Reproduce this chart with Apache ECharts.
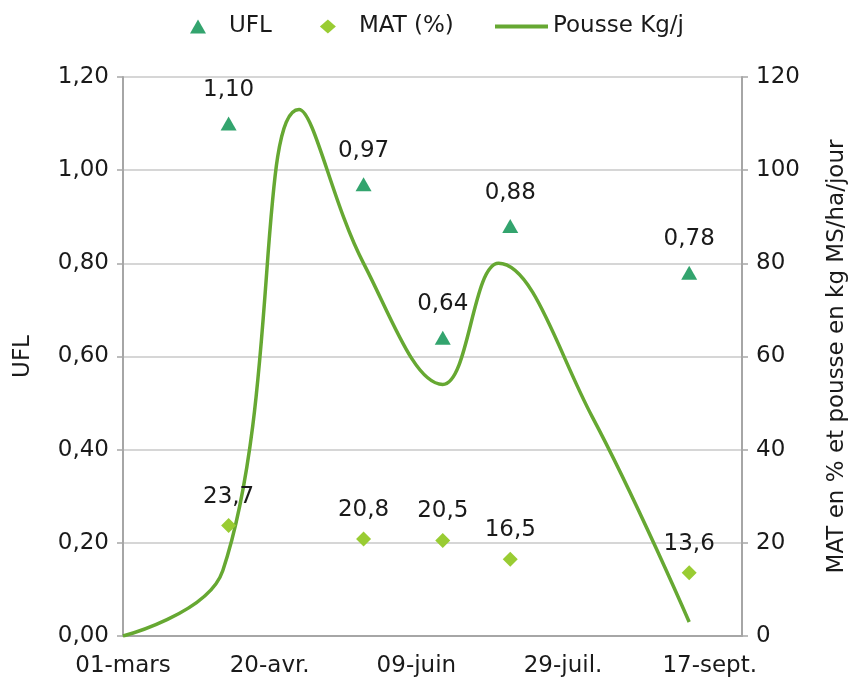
<!DOCTYPE html>
<html>
<head>
<meta charset="utf-8">
<title>UFL, MAT et pousse</title>
<script src="https://cdn.jsdelivr.net/npm/echarts@6/dist/echarts.min.js"></script>
<style>
    html, body { margin: 0; padding: 0; background: #fff; }
    #main { width: 852px; height: 686px; }
</style>
</head>
<body>
<div id="main"></div>
<script>
    // jours comptés depuis le 01-mars
    var xLabels = ['01-mars', '20-avr.', '09-juin', '29-juil.', '17-sept.'];
    var sampleDays = [36, 82, 109, 132, 193];
    var ufl = [1.10, 0.97, 0.64, 0.88, 0.78];
    var mat = [23.7, 20.8, 20.5, 16.5, 13.6];
    var pousseDays = [0, 34, 60, 82, 109, 128, 160, 193];
    var pousse = [0, 14, 113, 80, 54, 80, 47, 3];

    function pairs(xs, ys) {
        return xs.map(function (x, i) { return [x, ys[i]]; });
    }
    function comma(v, d) {
        return v.toFixed(d).replace('.', ',');
    }

    var font = 'DejaVu Sans';
    var txt = '#1a1a1a';
    var axisGray = '#a6a6a6';

    var myChart = echarts.init(document.getElementById('main'));
    var option = {
        animation: false,
        textStyle: { fontFamily: font },
        grid: { left: 123, right: 110, top: 77, bottom: 50, outerBoundsMode: 'none' },
        legend: [
            {
                left: 185, top: 10,
                itemWidth: 16, itemHeight: 14, itemGap: 48,
                textStyle: { fontFamily: font, fontSize: 23, color: txt, padding: [0, 0, 0, 18] },
                data: ['UFL', 'MAT (%)']
            },
            {
                left: 490, top: 10,
                itemWidth: 53, itemHeight: 4, itemGap: 0,
                textStyle: { fontFamily: font, fontSize: 23, color: txt },
                data: [{ name: 'Pousse Kg/j', icon: 'rect' }]
            }
        ],
        xAxis: {
            type: 'value',
            min: 0, max: 211, interval: 50,
            axisLine: { lineStyle: { color: axisGray, width: 2 } },
            axisTick: { show: false },
            splitLine: { show: false },
            axisLabel: {
                fontFamily: font, fontSize: 23, color: txt, margin: 19,
                formatter: function (v) {
                    return v % 50 === 0 ? (xLabels[v / 50] || '') : '';
                }
            }
        },
        yAxis: [
            {
                type: 'value', min: 0, max: 1.2, interval: 0.2,
                name: 'UFL', nameLocation: 'middle', nameGap: 88,
                nameTextStyle: { fontFamily: font, fontSize: 23, color: txt },
                axisLine: { show: true, lineStyle: { color: axisGray, width: 2 } },
                axisTick: { show: true, length: 6, lineStyle: { color: axisGray, width: 1.5 } },
                splitLine: { lineStyle: { color: '#c8c8c8', width: 1.5 } },
                axisLabel: {
                    fontFamily: font, fontSize: 23, color: txt, margin: 14,
                    formatter: function (v) { return comma(v, 2); }
                }
            },
            {
                type: 'value', min: 0, max: 120, interval: 20,
                name: 'MAT en % et pousse en kg MS/ha/jour', nameLocation: 'middle', nameGap: 84,
                nameTextStyle: { fontFamily: font, fontSize: 23, color: txt },
                axisLine: { show: true, lineStyle: { color: axisGray, width: 2 } },
                axisTick: { show: true, length: 6, lineStyle: { color: axisGray, width: 1.5 } },
                splitLine: { show: false },
                axisLabel: { fontFamily: font, fontSize: 23, color: txt, margin: 14 }
            }
        ],
        series: [
            {
                name: 'Pousse Kg/j',
                type: 'line',
                yAxisIndex: 1,
                data: pairs(pousseDays, pousse),
                smooth: 0.4,
                symbol: 'none',
                lineStyle: { color: '#66a832', width: 3.5 },
                itemStyle: { color: '#66a832' },
                z: 2
            },
            {
                name: 'UFL',
                type: 'scatter',
                yAxisIndex: 0,
                data: pairs(sampleDays, ufl),
                symbol: 'triangle',
                symbolSize: [16, 14],
                itemStyle: { color: '#33a46e', opacity: 1 },
                label: {
                    show: true, position: 'top', distance: 15,
                    fontFamily: font, fontSize: 23, color: txt,
                    formatter: function (p) { return comma(p.value[1], 2); }
                },
                z: 3
            },
            {
                name: 'MAT (%)',
                type: 'scatter',
                yAxisIndex: 1,
                data: pairs(sampleDays, mat),
                symbol: 'diamond',
                symbolSize: 15,
                itemStyle: { color: '#99cc33', opacity: 1 },
                label: {
                    show: true, position: 'top', distance: 10,
                    fontFamily: font, fontSize: 23, color: txt,
                    formatter: function (p) { return comma(p.value[1], 1); }
                },
                z: 3
            }
        ]
    };
    myChart.setOption(option);
</script>
</body>
</html>
